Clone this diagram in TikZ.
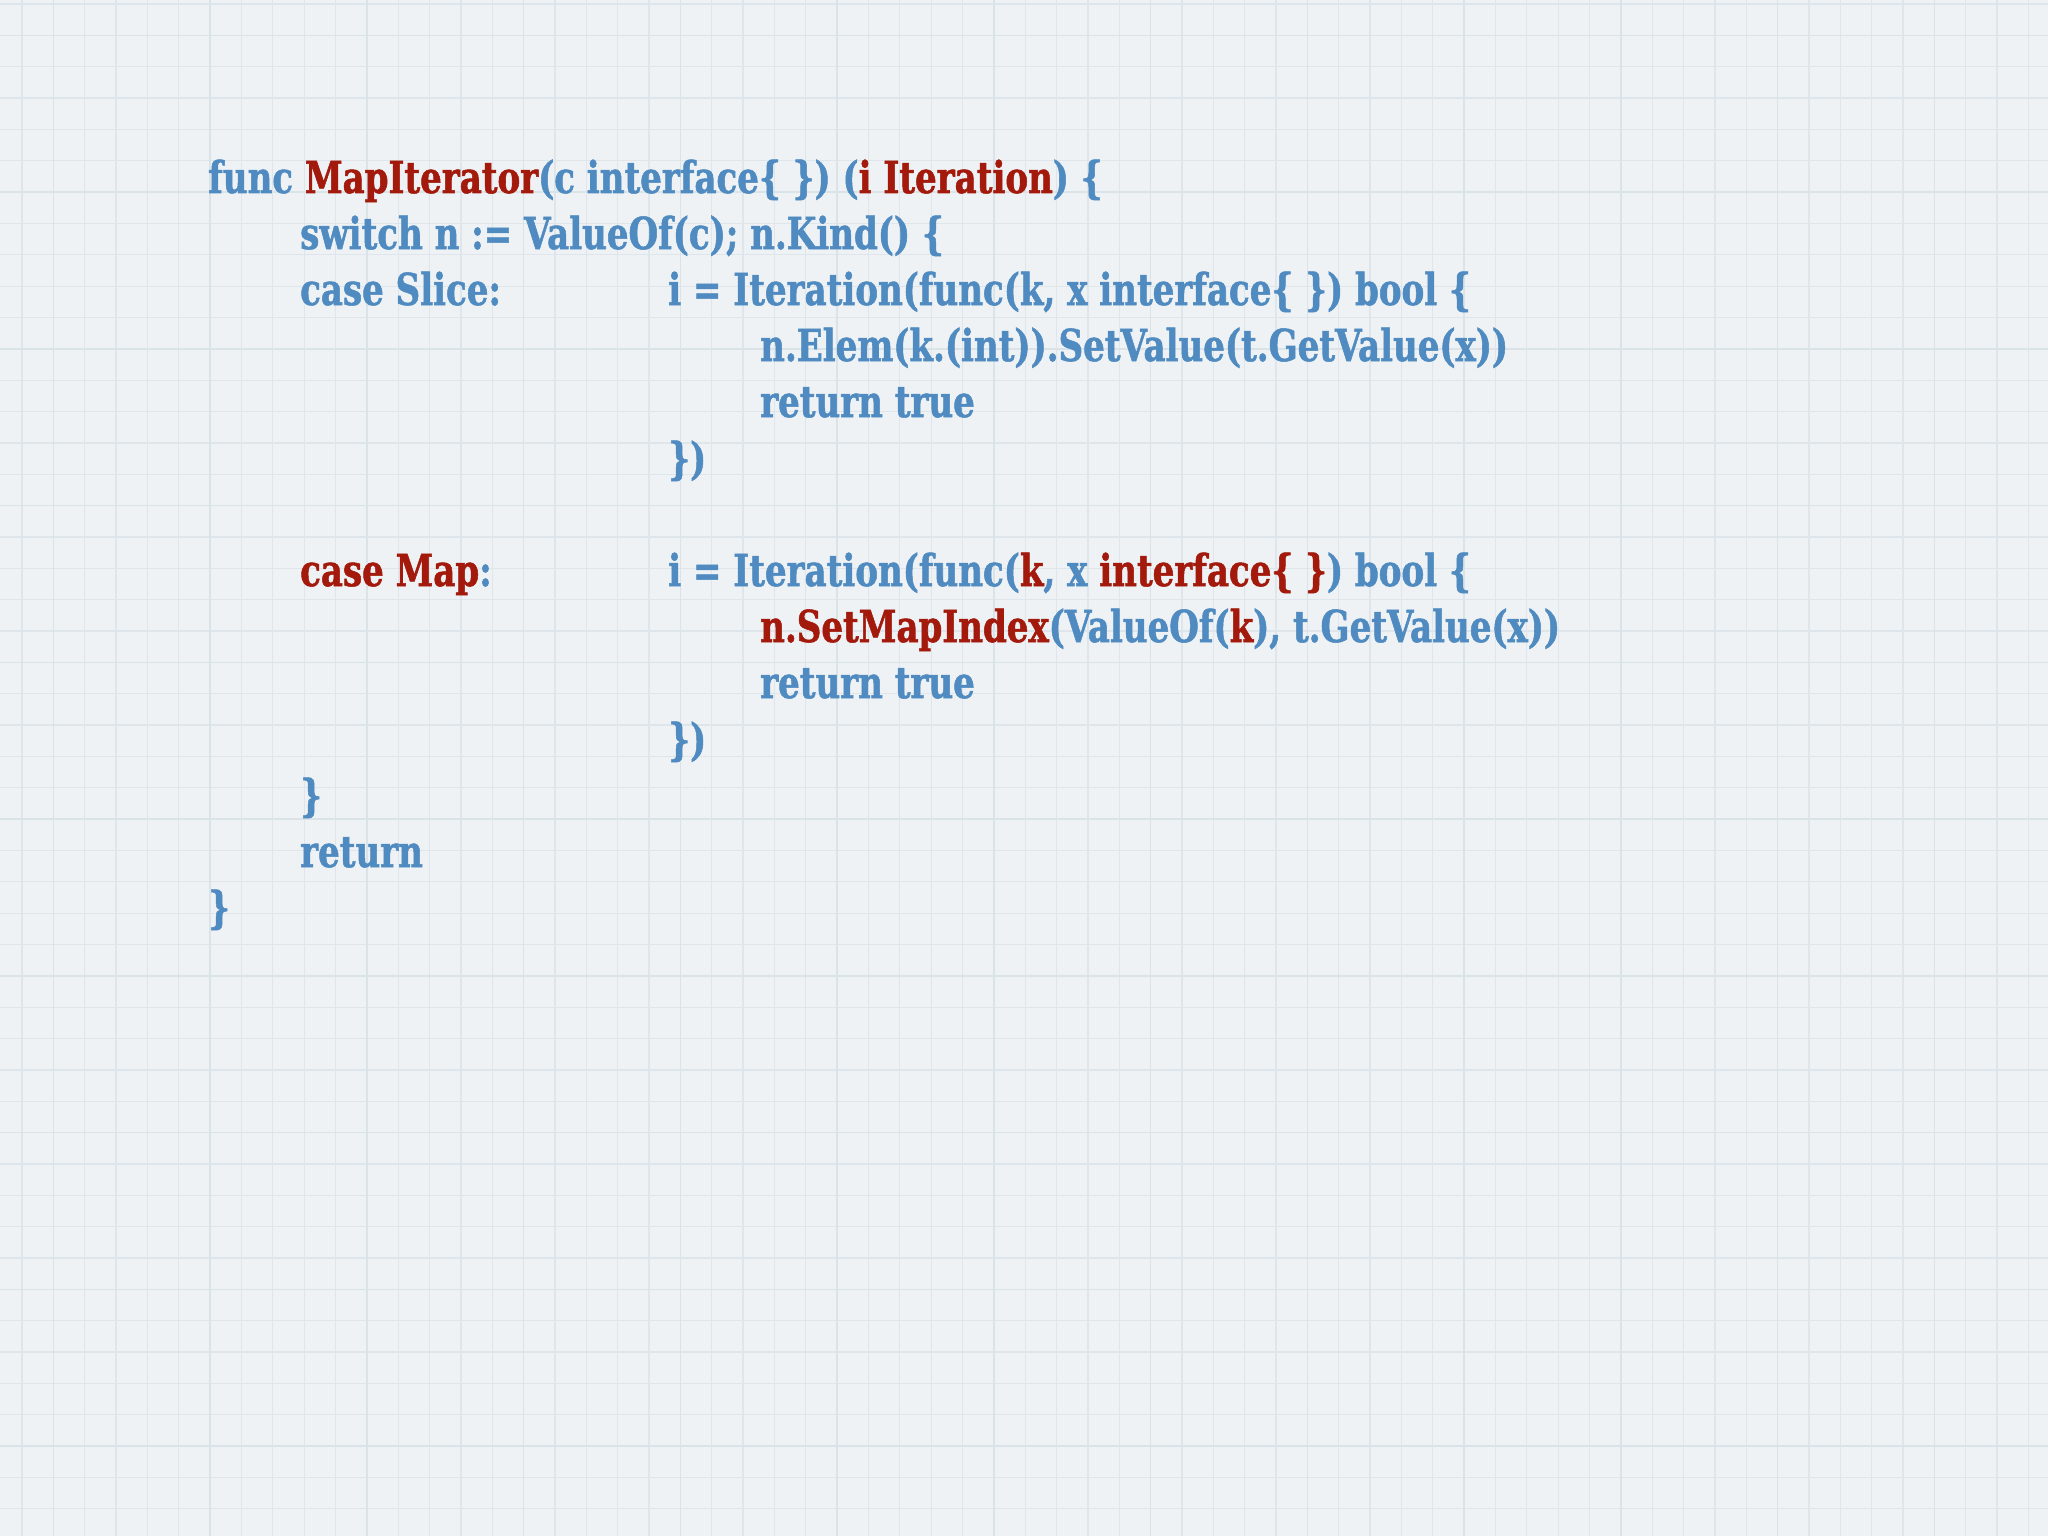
\documentclass[tikz,border=0pt]{standalone}
\usepackage{fontspec}
\setmainfont{DejaVu Serif Condensed}[BoldFont={DejaVu Serif Condensed Bold},FakeStretch=0.86,FakeBold=1.2]
\definecolor{bg}{HTML}{EEF2F4}
\definecolor{gridc}{HTML}{DEE6EB}
\definecolor{gridm}{HTML}{DAE3E8}
\definecolor{cb}{HTML}{4F8BC0}
\definecolor{cr}{HTML}{A31A0C}
\newcommand{\R}[1]{\textcolor{cr}{#1}}
\tikzset{code/.style={anchor=base west,inner sep=0pt,font=\fontsize{44}{44}\selectfont\bfseries,text=cb}}
\begin{document}
\begin{tikzpicture}[x=1pt,y=-1pt]
\useasboundingbox (0,0) rectangle (2048,1536);
\fill[bg] (0,0) rectangle (2048,1536);
\foreach \i in {0,...,66} {\draw[gridc,line width=1.3] (22+31.35*\i,0) -- (22+31.35*\i,1536);}
\foreach \i in {0,...,50} {\draw[gridc,line width=1.3] (0,4+31.35*\i) -- (2048,4+31.35*\i);}
\foreach \i in {0,...,13} {\draw[gridm,line width=1.6] (53.35+156.75*\i,0) -- (53.35+156.75*\i,1536);}
\foreach \i in {0,...,10} {\draw[gridm,line width=1.6] (0,35.35+156.75*\i) -- (2048,35.35+156.75*\i);}
\node[code] (l1) at (208,193) {func \R{MapIterator}(c interface\{ \}) (\R{i Iteration}) \{};
\node[code] (l2) at (300,249) {switch n := ValueOf(c); n.Kind() \{};
\node[code] (l3) at (300,305) {case Slice:};
\node[code] (l3b) at (668,305) {i = Iteration(func(k, x interface\{ \}) bool \{};
\node[code] (l4) at (760,361) {n.Elem(k.(int)).SetValue(t.GetValue(x))};
\node[code] (l5) at (760,417) {return true};
\node[code] (l6) at (668,474) {\})};
\node[code] (l7) at (300,586) {\R{case Map}:};
\node[code] (l7b) at (668,586) {i = Iteration(func(\R{k}, x \R{interface\{ \}}) bool \{};
\node[code] (l8) at (760,642) {\R{n.SetMapIndex}(ValueOf(\R{k}), t.GetValue(x))};
\node[code] (l9) at (760,698) {return true};
\node[code] (l10) at (668,755) {\})};
\node[code] (l11) at (300,811) {\}};
\node[code] (l12) at (300,867) {return};
\node[code] (l13) at (208,923) {\}};
\end{tikzpicture}
\end{document}
